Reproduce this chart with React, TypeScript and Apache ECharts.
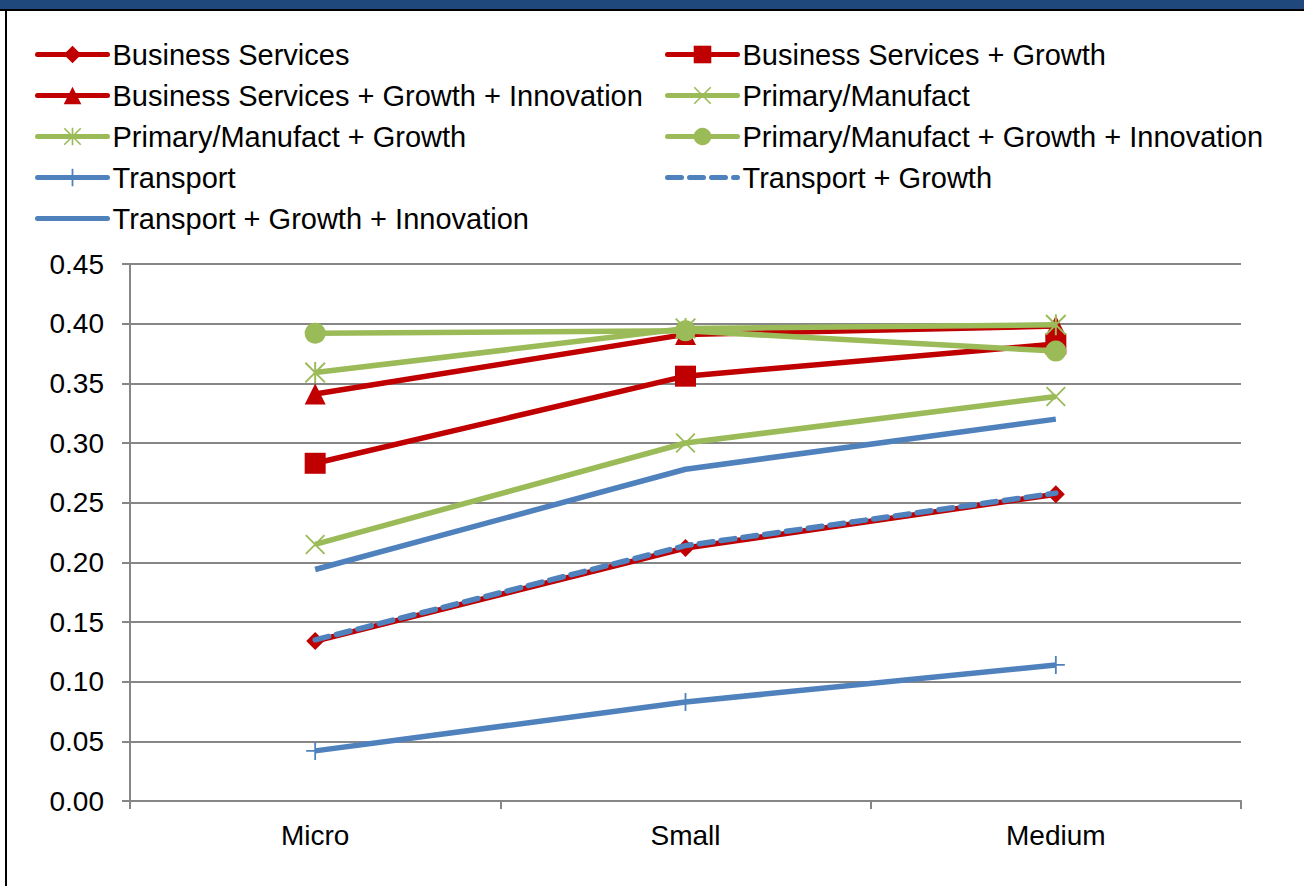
import React, { useEffect, useRef } from "react";
import * as echarts from "echarts";

const categories = ["Micro", "Small", "Medium"];
const seriesNames = [
  "Business Services",
  "Business Services + Growth",
  "Business Services + Growth + Innovation",
  "Primary/Manufact",
  "Primary/Manufact + Growth",
  "Primary/Manufact + Growth + Innovation",
  "Transport",
  "Transport + Growth",
  "Transport + Growth + Innovation",
];
const businessServices = [0.134, 0.212, 0.257];
const businessGrowth = [0.283, 0.356, 0.383];
const businessGrowthInnovation = [0.341, 0.391, 0.398];
const primary = [0.215, 0.3, 0.339];
const primaryGrowth = [0.359, 0.396, 0.399];
const primaryGrowthInnovation = [0.392, 0.394, 0.377];
const transport = [0.042, 0.083, 0.114];
const transportGrowth = [0.135, 0.214, 0.258];
const transportGrowthInnovation = [0.194, 0.278, 0.32];
const yTicks = { min: 0, max: 0.45, interval: 0.05 };

const RED = "#C00000";
const GREEN = "#9BBB59";
const BLUE = "#4F81BD";

const X_PATH =
  "path://M-9.3,-10.7L10.7,9.3L9.3,10.7L-10.7,-9.3Z M9.3,-10.7L10.7,-9.3L-9.3,10.7L-10.7,9.3Z";
const STAR_PATH =
  "path://M-9.3,-10.7L10.7,9.3L9.3,10.7L-10.7,-9.3Z M9.3,-10.7L10.7,-9.3L-9.3,10.7L-10.7,9.3Z M-1,-10.7L1,-10.7L1,10.7L-1,10.7Z";
const PLUS_PATH =
  "path://M-1,-10L1,-10L1,-1L10,-1L10,1L1,1L1,10L-1,10L-1,1L-10,1L-10,-1L-1,-1Z";

const FONT = "'Liberation Sans', Arial, sans-serif";
const DASH = [14, 8];

export default function App() {
  const ref = useRef<HTMLDivElement>(null);
  useEffect(() => {
    if (!ref.current) return;
    const chart = echarts.init(ref.current, undefined, { renderer: "svg" });

    const defs = [
      { data: businessServices, color: RED, symbol: "diamond", size: 18, dash: false },
      { data: businessGrowth, color: RED, symbol: "rect", size: 21, dash: false },
      { data: businessGrowthInnovation, color: RED, symbol: "triangle", size: 21, dash: false },
      { data: primary, color: GREEN, symbol: X_PATH, size: 20, dash: false },
      { data: primaryGrowth, color: GREEN, symbol: STAR_PATH, size: 21, dash: false },
      { data: primaryGrowthInnovation, color: GREEN, symbol: "circle", size: 21, dash: false },
      { data: transport, color: BLUE, symbol: PLUS_PATH, size: 18, dash: false },
      { data: transportGrowth, color: BLUE, symbol: "none", size: 0, dash: true },
      { data: transportGrowthInnovation, color: BLUE, symbol: "none", size: 0, dash: false },
    ];

    const series = defs.map((d, i) => ({
      name: seriesNames[i],
      type: "line",
      data: d.data,
      symbol: d.symbol,
      symbolSize: d.size,
      showSymbol: d.symbol !== "none",
      itemStyle: { color: d.color },
      lineStyle: {
        color: d.color,
        width: 5.5,
        type: d.dash ? DASH : "solid",
        cap: d.dash ? "round" : "butt",
        join: "round",
      },
      emphasis: { disabled: true },
      z: 2 + i,
    }));

    const rowTops = [55, 96, 137, 178, 219];
    const legends = seriesNames.map((name, i) => {
      const col = i % 2;
      const row = Math.floor(i / 2);
      const d = defs[i];
      return {
        data: [name],
        left: col === 0 ? 35 : 665,
        top: rowTops[row] - 15,
        padding: 0,
        itemWidth: 70,
        itemHeight: 22,
        itemGap: 0,
        lineStyle: {
          width: 5,
          color: d.color,
          type: d.dash ? DASH : "solid",
          cap: "round",
        },
        itemStyle: d.symbol === "none" ? { opacity: 0 } : { color: d.color },
        textStyle: { fontFamily: FONT, fontSize: 29, color: "#000" },
        selectedMode: false,
      };
    });

    chart.setOption({
      animation: false,
      backgroundColor: "#fff",
      graphic: [
        { type: "rect", shape: { x: 0, y: 0, width: 1304, height: 9 }, style: { fill: "#1F497D" } },
        { type: "rect", shape: { x: 0, y: 9, width: 1304, height: 2 }, style: { fill: "#000" } },
        { type: "rect", shape: { x: 5, y: 9, width: 2, height: 877 }, style: { fill: "#000" } },
      ],
      legend: legends,
      grid: { left: 130, right: 63, top: 264, bottom: 85, containLabel: false },
      xAxis: {
        type: "category",
        data: categories,
        boundaryGap: true,
        axisLine: { show: true, lineStyle: { color: "#868686", width: 2 } },
        axisTick: { show: true, alignWithLabel: false, length: 8, lineStyle: { color: "#868686", width: 2 } },
        axisLabel: { fontFamily: FONT, fontSize: 28, color: "#000", margin: 20 },
        splitLine: { show: false },
      },
      yAxis: {
        type: "value",
        min: yTicks.min,
        max: yTicks.max,
        interval: yTicks.interval,
        axisLine: { show: true, lineStyle: { color: "#868686", width: 2 } },
        axisTick: { show: true, length: 8, lineStyle: { color: "#868686", width: 2 } },
        axisLabel: {
          fontFamily: FONT,
          fontSize: 28,
          color: "#000",
          margin: 26,
          formatter: (v: number) => v.toFixed(2),
        },
        splitLine: { show: true, lineStyle: { color: "#868686", width: 2 } },
      },
      series,
    });
    return () => chart.dispose();
  }, []);
  return (
    <div
      ref={ref}
      style={{ position: "fixed", left: 0, top: 0, width: 1304, height: 886, background: "#fff" }}
    />
  );
}
